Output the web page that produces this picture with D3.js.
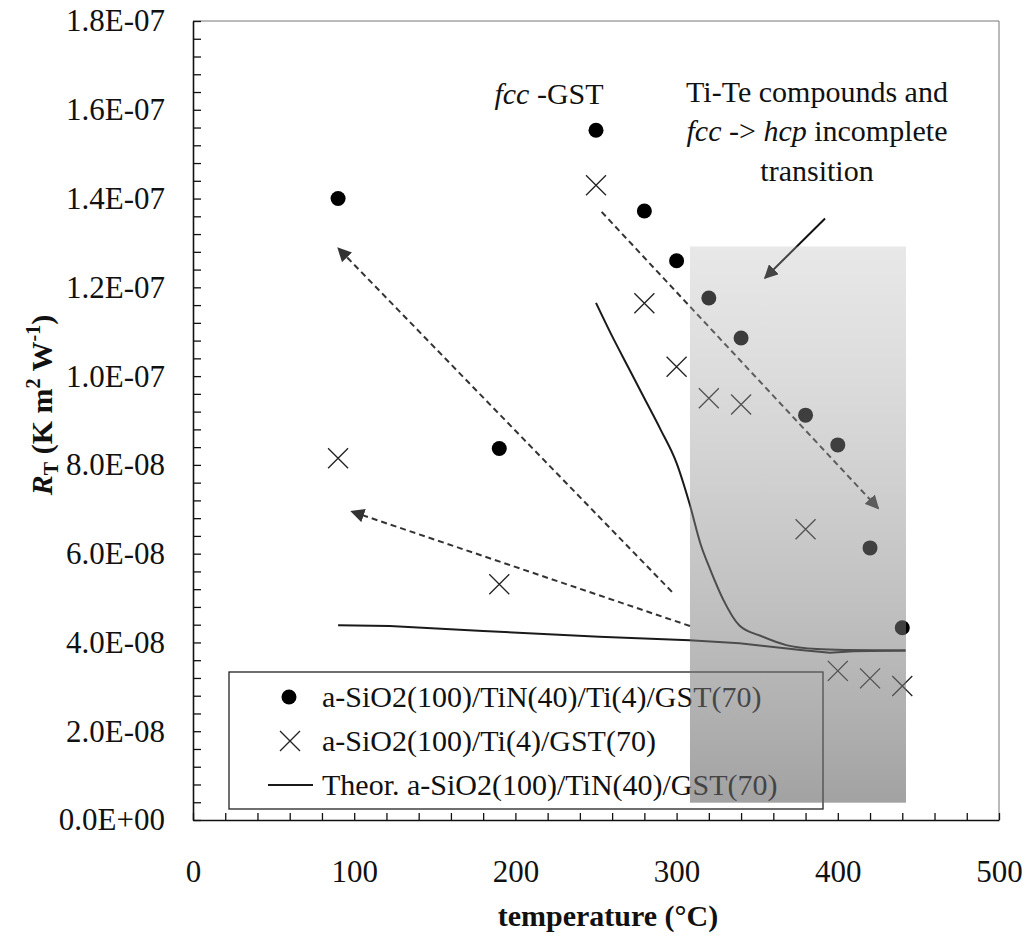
<!DOCTYPE html>
<html>
<head>
<meta charset="utf-8">
<script src="https://cdn.jsdelivr.net/npm/d3@7"></script>
<style>
  body { margin: 0; background: #fff; }
  text { font-family: "Liberation Serif", "Times New Roman", serif; fill: #111; }
</style>
</head>
<body>
<div id="chart"></div>
<script>
// measured points, a-SiO2(100)/TiN(40)/Ti(4)/GST(70)
const tempTiN = [90, 190, 250, 280, 300, 320, 340, 380, 400, 420, 440];
const rtTiN = [1.40e-7, 8.37e-8, 1.554e-7, 1.372e-7, 1.26e-7, 1.176e-7, 1.086e-7, 9.12e-8, 8.45e-8, 6.13e-8, 4.33e-8];

// measured points, a-SiO2(100)/Ti(4)/GST(70)
const tempTi = [90, 190, 250, 280, 300, 320, 340, 380, 400, 420, 440];
const rtTi = [8.15e-8, 5.31e-8, 1.43e-7, 1.164e-7, 1.021e-7, 9.5e-8, 9.36e-8, 6.55e-8, 3.36e-8, 3.19e-8, 3.02e-8];

// theoretical curves (amorphous branch + crystallising branch)
const tempTheorA = [90, 122, 180, 252, 308, 339, 360, 377, 395, 410, 442];
const rtTheorA = [4.39e-8, 4.37e-8, 4.26e-8, 4.13e-8, 4.05e-8, 3.98e-8, 3.90e-8, 3.83e-8, 3.77e-8, 3.80e-8, 3.82e-8];
const tempTheorB = [250, 260, 270, 280, 290, 300, 308, 315, 321, 329, 339, 352, 368, 387, 405, 442];
const rtTheorB = [11.65e-8, 10.9e-8, 10.2e-8, 9.5e-8, 8.8e-8, 8.04e-8, 7.13e-8, 6.2e-8, 5.63e-8, 4.96e-8, 4.38e-8, 4.15e-8, 3.94e-8, 3.85e-8, 3.83e-8, 3.82e-8];

// axis ticks
const xTicks = [0, 100, 200, 300, 400, 500];
const yTicks = [0, 2e-8, 4e-8, 6e-8, 8e-8, 1e-7, 1.2e-7, 1.4e-7, 1.6e-7, 1.8e-7];
const yTickLabels = ["0.0E+00", "2.0E-08", "4.0E-08", "6.0E-08", "8.0E-08", "1.0E-07", "1.2E-07", "1.4E-07", "1.6E-07", "1.8E-07"];

// shaded region (temperature / RT extents)
const shadeT = [308.3, 442.3];
const shadeR = [0.39e-8, 12.92e-8];

// arrows [tailT, tailR, tipT, tipR]
const dashedArrows = [
  [297.1, 5.14e-8, 90.1, 12.88e-8],
  [308.3, 4.37e-8, 98.4, 6.95e-8],
  [253.5, 13.70e-8, 425.1, 7.02e-8]
];
const solidArrows = [[392.1, 13.55e-8, 354.8, 12.21e-8]];

const width = 1027, height = 938;
const plotL = 193, plotR = 999, plotT = 21, plotB = 820;

const svg = d3.select("#chart").append("svg")
    .attr("width", width)
    .attr("height", height);

const x = d3.scaleLinear().domain([0, 500]).range([plotL, plotR]);
const y = d3.scaleLinear().domain([0, 1.8e-7]).range([plotB, plotT]);

const defs = svg.append("defs");
const grad = defs.append("linearGradient")
    .attr("id", "shade").attr("x1", 0).attr("y1", 0).attr("x2", 0).attr("y2", 1);
grad.append("stop").attr("offset", "0%").attr("stop-color", "rgb(180,180,180)").attr("stop-opacity", 0.31);
grad.append("stop").attr("offset", "100%").attr("stop-color", "rgb(100,100,100)").attr("stop-opacity", 0.6);

function marker(id, color) {
  defs.append("marker")
      .attr("id", id)
      .attr("viewBox", "0 0 10 10")
      .attr("refX", 9).attr("refY", 5)
      .attr("markerWidth", 7).attr("markerHeight", 7)
      .attr("markerUnits", "strokeWidth")
      .attr("orient", "auto")
    .append("path")
      .attr("d", "M0,0 L10,5 L0,10 z")
      .attr("fill", color);
}
marker("headDash", "#333");
marker("headSolid", "#111");

// frame top/right
svg.append("path")
    .attr("d", `M${plotL},${plotT}H${plotR}V${plotB}`)
    .attr("fill", "none").attr("stroke", "#777").attr("stroke-width", 1);

// axes
const yMinor = d3.range(0, 46).map(i => i * 4e-9);
const xMinor = d3.range(0, 26).map(i => i * 20);

const yAxis = svg.append("g")
    .attr("transform", `translate(${plotL},0)`)
    .call(d3.axisLeft(y).tickValues(yMinor).tickSizeInner(-8).tickSizeOuter(0).tickFormat(""));
const xAxis = svg.append("g")
    .attr("transform", `translate(0,${plotB})`)
    .call(d3.axisBottom(x).tickValues(xMinor).tickSizeInner(-7).tickSizeOuter(0).tickFormat(""));
[yAxis, xAxis].forEach(g => {
  g.select(".domain").attr("stroke", "#111").attr("stroke-width", 1.6);
  g.selectAll(".tick line").attr("stroke", "#111").attr("stroke-width", 1.3);
});

svg.append("g")
    .attr("transform", `translate(${plotL},0)`)
    .call(d3.axisLeft(y).tickValues(yTicks).tickSize(0).tickPadding(28)
      .tickFormat((d, i) => yTickLabels[i]))
    .call(g => g.select(".domain").remove())
    .selectAll("text")
      .style("font-family", "'Liberation Serif', serif")
      .style("font-size", "31px")
      .attr("fill", "#111");

svg.append("g")
    .attr("transform", `translate(0,${plotB})`)
    .call(d3.axisBottom(x).tickValues(xTicks).tickSize(0).tickPadding(40).tickFormat(d3.format("d")))
    .call(g => g.select(".domain").remove())
    .selectAll("text")
      .style("font-family", "'Liberation Serif', serif")
      .style("font-size", "31px")
      .attr("fill", "#111");

// axis titles
svg.append("text")
    .attr("x", 608).attr("y", 926)
    .attr("text-anchor", "middle")
    .style("font-size", "30px").style("font-weight", "bold")
    .text("temperature (°C)");

const yTitle = svg.append("text")
    .attr("transform", "translate(52,405) rotate(-90)")
    .attr("text-anchor", "middle")
    .style("font-size", "30px").style("font-weight", "bold");
yTitle.append("tspan").style("font-style", "italic").text("R");
yTitle.append("tspan").attr("dy", 6).style("font-size", "20px").text("T");
yTitle.append("tspan").attr("dy", -6).text(" (K m");
yTitle.append("tspan").attr("dy", -12).style("font-size", "20px").text("2");
yTitle.append("tspan").attr("dy", 12).text(" W");
yTitle.append("tspan").attr("dy", -12).style("font-size", "20px").text("-1");
yTitle.append("tspan").attr("dy", 12).text(")");

// theory lines
const lineA = d3.line().x(d => x(d[0])).y(d => y(d[1]));
const lineB = d3.line().x(d => x(d[0])).y(d => y(d[1])).curve(d3.curveMonotoneX);
svg.append("path")
    .datum(d3.zip(tempTheorA, rtTheorA))
    .attr("d", lineA)
    .attr("fill", "none").attr("stroke", "#1a1a1a").attr("stroke-width", 2);
svg.append("path")
    .datum(d3.zip(tempTheorB, rtTheorB))
    .attr("d", lineB)
    .attr("fill", "none").attr("stroke", "#1a1a1a").attr("stroke-width", 2);

// arrows
svg.selectAll(".darrow")
  .data(dashedArrows)
  .join("line")
    .attr("x1", d => x(d[0])).attr("y1", d => y(d[1]))
    .attr("x2", d => x(d[2])).attr("y2", d => y(d[3]))
    .attr("stroke", "#333").attr("stroke-width", 2)
    .attr("stroke-dasharray", "6,4")
    .attr("marker-end", "url(#headDash)");
svg.selectAll(".sarrow")
  .data(solidArrows)
  .join("line")
    .attr("x1", d => x(d[0])).attr("y1", d => y(d[1]))
    .attr("x2", d => x(d[2])).attr("y2", d => y(d[3]))
    .attr("stroke", "#111").attr("stroke-width", 2)
    .attr("marker-end", "url(#headSolid)");

// points
svg.append("g")
  .selectAll("circle")
  .data(d3.zip(tempTiN, rtTiN))
  .join("circle")
    .attr("cx", d => x(d[0])).attr("cy", d => y(d[1]))
    .attr("r", 7.5)
    .attr("fill", "#000");

const cross = (cx, cy, s) => `M${cx - s},${cy - s}L${cx + s},${cy + s}M${cx - s},${cy + s}L${cx + s},${cy - s}`;
svg.append("g")
  .selectAll("path")
  .data(d3.zip(tempTi, rtTi))
  .join("path")
    .attr("d", d => cross(x(d[0]), y(d[1]), 10))
    .attr("stroke", "#222").attr("stroke-width", 1.3).attr("fill", "none");

// annotations
const fccLabel = svg.append("text")
    .attr("x", 549).attr("y", 104)
    .attr("text-anchor", "middle")
    .style("font-size", "30px");
fccLabel.append("tspan").style("font-style", "italic").text("fcc");
fccLabel.append("tspan").text(" -GST");

const note = svg.append("text")
    .attr("text-anchor", "middle")
    .style("font-size", "30px");
note.append("tspan").attr("x", 817).attr("y", 102).text("Ti-Te compounds and");
const l2 = note.append("tspan").attr("x", 817).attr("y", 141);
l2.append("tspan").style("font-style", "italic").text("fcc");
l2.append("tspan").text("  -> ");
l2.append("tspan").style("font-style", "italic").text("hcp");
l2.append("tspan").text("  incomplete");
note.append("tspan").attr("x", 817).attr("y", 181).text("transition");

// legend
const legend = svg.append("g");
legend.append("rect")
    .attr("x", 229).attr("y", 672)
    .attr("width", 594).attr("height", 137)
    .attr("fill", "none").attr("stroke", "#222").attr("stroke-width", 1.3);
legend.append("circle").attr("cx", 289).attr("cy", 697).attr("r", 7.5).attr("fill", "#000");
legend.append("path").attr("d", cross(290, 741, 10))
    .attr("stroke", "#222").attr("stroke-width", 1.3).attr("fill", "none");
legend.append("line").attr("x1", 268).attr("x2", 313).attr("y1", 785).attr("y2", 785)
    .attr("stroke", "#1a1a1a").attr("stroke-width", 2);
const legendLabels = ["a-SiO2(100)/TiN(40)/Ti(4)/GST(70)", "a-SiO2(100)/Ti(4)/GST(70)", "Theor. a-SiO2(100)/TiN(40)/GST(70)"];
legend.selectAll("text.lg")
  .data(legendLabels)
  .join("text")
    .attr("x", 322)
    .attr("y", (d, i) => 707 + i * 44)
    .style("font-size", "30px")
    .text(d => d);

// shaded overlay for the transition region
svg.append("rect")
    .attr("x", x(shadeT[0])).attr("y", y(shadeR[1]))
    .attr("width", x(shadeT[1]) - x(shadeT[0]))
    .attr("height", y(shadeR[0]) - y(shadeR[1]))
    .attr("fill", "url(#shade)");
</script>
</body>
</html>
